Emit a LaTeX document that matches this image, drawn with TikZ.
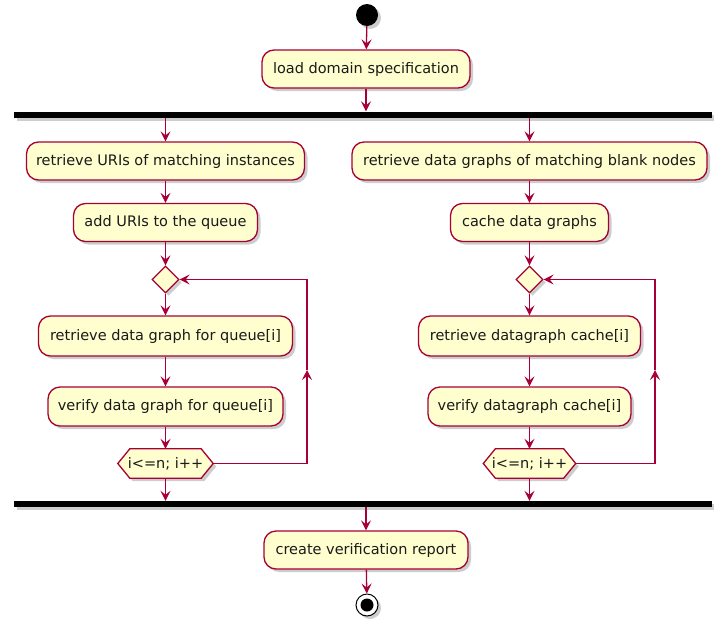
\documentclass[tikz,border=0pt]{standalone}
\usepackage{fontspec}
\setmainfont{DejaVu Sans}
\usetikzlibrary{shapes.geometric,arrows.meta,shadows,calc}
\definecolor{actfill}{HTML}{FEFECE}
\definecolor{actline}{HTML}{A80036}
\definecolor{txt}{HTML}{1A1A1A}
\pgfdeclarelayer{bg}
\pgfsetlayers{bg,main}
\tikzset{
 shad/.style={drop shadow={shadow xshift=3pt,shadow yshift=-3pt,opacity=0.28,fill=black!70}},
 act/.style={draw=actline, fill=actfill, line width=1.3pt, rounded corners=12pt, minimum height=38pt, inner sep=0pt, text=txt, font=\fontsize{14.5}{17}\selectfont, shad},
 dec/.style={diamond, draw=actline, fill=actfill, line width=1.3pt, minimum width=27pt, minimum height=27pt, inner sep=0pt, shad},
 hexlbl/.style={minimum height=29pt, inner sep=0pt, text=txt, font=\fontsize{14.5}{17}\selectfont},
 hexshape/.style={draw=actline, fill=actfill, line width=1.3pt, shad},
 bar/.style={fill=black, minimum height=6pt, minimum width=698pt, inner sep=0pt, shad},
 arr/.style={draw=actline, line width=1.3pt, -{Stealth[length=10pt,width=10pt,inset=4pt]}},
}
\begin{document}
\begin{tikzpicture}[x=1pt,y=-1pt]
\useasboundingbox (0,0) rectangle (714,624);
% start
\node[circle, fill=black, minimum size=22pt, inner sep=0pt, shad] (start) at (367,15) {};
\node[act, minimum width=208pt] (load) at (366,69) {load domain specification};
\node[bar] (fork) at (363,114.5) {};
% left branch
\node[act, minimum width=278pt] (r1) at (165.5,161) {retrieve URIs of matching instances};
\node[act, minimum width=184pt] (a1) at (165.5,222.5) {add URIs to the queue};
\node[dec] (d1) at (165.5,279.5) {};
\node[act, minimum width=254pt, minimum height=40pt] (g1) at (165.5,336) {retrieve data graph for queue[i]};
\node[act, minimum width=235pt, minimum height=39pt] (v1) at (165.5,406.5) {verify data graph for queue[i]};
\node[hexlbl, minimum width=95pt] (h1) at (165.5,463.5) {i<=n; i++};
% right branch
\node[act, minimum width=355pt] (r2) at (529.5,161) {retrieve data graphs of matching blank nodes};
\node[act, minimum width=158pt] (a2) at (529.5,222.5) {cache data graphs};
\node[dec] (d2) at (529.5,279.5) {};
\node[act, minimum width=222pt, minimum height=40pt] (g2) at (529.5,336) {retrieve datagraph cache[i]};
\node[act, minimum width=203pt, minimum height=39pt] (v2) at (529.5,406.5) {verify datagraph cache[i]};
\node[hexlbl, minimum width=92pt] (h2) at (529.5,463.5) {i<=n; i++};
% join and end
\node[bar] (join) at (363,504) {};
\node[act, minimum width=204pt] (rep) at (366,550) {create verification report};
\node[circle, draw=black, fill=white, line width=1pt, minimum size=22pt, inner sep=0pt, shad] (end) at (367,605) {};
\node[circle, fill=black, minimum size=13pt, inner sep=0pt] (endin) at (end) {};
% hexagons
\begin{pgfonlayer}{bg}
\draw[hexshape] (h1.west) -- ($(h1.north west)+(12,0)$) -- ($(h1.north east)+(-12,0)$) -- (h1.east) -- ($(h1.south east)+(-12,0)$) -- ($(h1.south west)+(12,0)$) -- cycle;
\draw[hexshape] (h2.west) -- ($(h2.north west)+(12,0)$) -- ($(h2.north east)+(-12,0)$) -- (h2.east) -- ($(h2.south east)+(-12,0)$) -- ($(h2.south west)+(12,0)$) -- cycle;
\end{pgfonlayer}
% connectors
\draw[arr] (start) -- (load);
\draw[arr] (load) -- (load |- fork.north);
\draw[arr] (r1 |- fork.south) -- (r1);
\draw[arr] (r1) -- (a1);
\draw[arr] (a1) -- (d1);
\draw[arr] (d1) -- (g1);
\draw[arr] (g1) -- (v1);
\draw[arr] (v1) -- (h1);
\draw[arr] (h1) -- (h1 |- join.north);
\draw[arr] (r2 |- fork.south) -- (r2);
\draw[arr] (r2) -- (a2);
\draw[arr] (a2) -- (d2);
\draw[arr] (d2) -- (g2);
\draw[arr] (g2) -- (v2);
\draw[arr] (v2) -- (h2);
\draw[arr] (h2) -- (h2 |- join.north);
\draw[arr] (rep |- join.south) -- (rep);
\draw[arr] (rep) -- (end);
% loops
\coordinate (l1b) at (307,463.5);
\coordinate (l1m) at (307,370);
\coordinate (l1t) at (307,279.5);
\draw[arr] (h1.east) -- (l1b) -- (l1m);
\draw[arr] (l1m) -- (l1t) -- (d1.east);
\coordinate (l2b) at (655,463.5);
\coordinate (l2m) at (655,370);
\coordinate (l2t) at (655,279.5);
\draw[arr] (h2.east) -- (l2b) -- (l2m);
\draw[arr] (l2m) -- (l2t) -- (d2.east);
\end{tikzpicture}
\end{document}
